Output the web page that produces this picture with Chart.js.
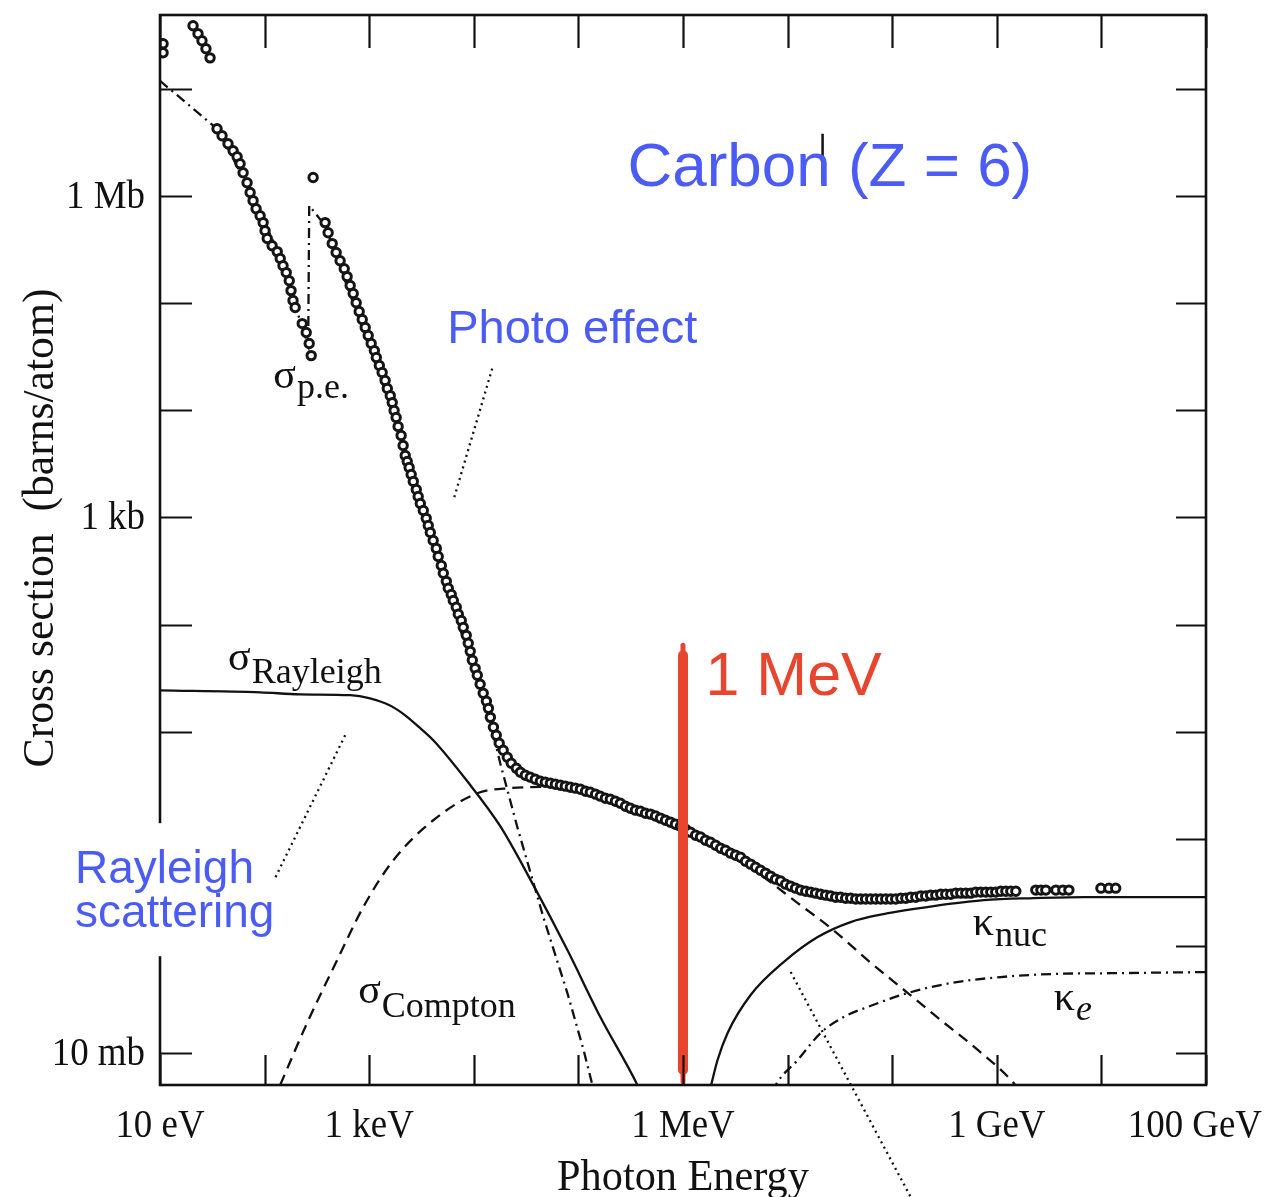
<!DOCTYPE html>
<html>
<head>
<meta charset="utf-8">
<title>Carbon photon cross sections</title>
<script src="https://cdn.jsdelivr.net/npm/chart.js@4.4.1/dist/chart.umd.min.js"></script>
<style>
  html, body { margin: 0; padding: 0; background: #fff; }
</style>
</head>
<body>
<canvas id="myChart" width="1270" height="1197"></canvas>
<script>
// photon energy in eV, cross section in barns/atom
const totalEnergy = [
  10.7, 10.7, 20.7, 23.1, 25.2, 27.5, 30.1,
  35.1, 39.2, 44.7, 50.0, 54.6, 58.3, 62.3, 68.0, 72.7, 77.6, 82.9, 90.6, 96.8, 101, 106,
  118, 132, 141, 150, 161, 172, 179, 187, 196, 229, 250, 267, 279,
  291,
  379, 405, 443, 483, 527, 577, 615, 658, 703, 751, 802, 858, 916, 978, 1045, 1120, 1170,
  1250, 1330, 1420, 1490, 1590, 1660, 1730, 1810, 1890, 2020, 2110, 2210, 2310, 2410, 2520,
  2640, 2820, 2940, 3080, 3290, 3510, 3670, 3840, 4090, 4380, 4570, 4890, 5110, 5460, 5700,
  6090, 6370, 6800, 7110, 7590, 7930, 8470, 8850, 9250, 9680, 1.03e4, 1.08e4, 1.15e4, 1.23e4,
  1.32e4, 1.38e4, 1.44e4, 1.54e4, 1.64e4, 1.75e4, 1.91e4, 2.09e4, 2.28e4, 2.55e4, 2.79e4,
  3.11e4, 3.47e4, 3.87e4, 4.33e4, 4.83e4, 5.40e4, 6.03e4, 6.73e4, 7.50e4, 8.38e4, 9.35e4,
  1.045e5, 1.17e5, 1.30e5, 1.46e5, 1.62e5, 1.81e5, 2.02e5, 2.26e5, 2.52e5, 2.82e5, 3.14e5,
  3.51e5, 3.92e5, 4.38e5, 4.89e5, 5.46e5, 6.09e5, 6.80e5, 7.59e5, 8.47e5, 9.46e5, 1.06e6,
  1.18e6, 1.32e6, 1.47e6, 1.64e6, 1.83e6, 2.05e6, 2.29e6, 2.55e6, 2.85e6, 3.18e6, 3.55e6,
  3.96e6, 4.43e6, 4.94e6, 5.51e6, 6.15e6, 6.87e6, 7.67e6, 8.57e6, 9.57e6, 1.07e7, 1.19e7,
  1.33e7, 1.49e7, 1.66e7, 1.85e7, 2.07e7, 2.31e7, 2.58e7, 2.88e7, 3.21e7, 3.59e7, 4.01e7,
  4.48e7, 4.99e7, 5.57e7, 6.22e7, 6.95e7, 7.76e7, 8.67e7, 9.67e7, 1.08e8, 1.21e8, 1.35e8,
  1.50e8, 1.68e8, 1.87e8, 2.09e8, 2.33e8, 2.61e8, 2.91e8, 3.25e8, 3.63e8, 4.05e8, 4.52e8,
  5.05e8, 5.64e8, 6.29e8, 7.03e8, 7.84e8, 8.75e8, 9.77e8, 1.09e9, 1.22e9, 1.36e9, 1.52e9,
  2.36e9, 2.64e9, 2.94e9, 3.67e9, 4.28e9, 4.89e9, 9.89e9, 1.18e10, 1.37e10
];
const totalSigma = [
  2.64e7, 2.18e7, 3.89e7, 3.27e7, 2.82e7, 2.37e7, 1.95e7,
  4.25e6, 3.66e6, 3.08e6, 2.65e6, 2.33e6, 2.00e6, 1.65e6, 1.33e6, 1.08e6, 9.06e5, 7.62e5, 6.56e5, 5.65e5, 4.75e5, 4.01e5,
  3.44e5, 3.03e5, 2.61e5, 2.24e5, 1.93e5, 1.62e5, 1.31e5, 1.06e5, 9.10e4, 6.45e4, 5.32e4, 4.20e4, 3.24e4,
  1.49e6,
  5.65e5, 4.55e5, 3.60e5, 2.97e5, 2.49e5, 2.10e5, 1.77e5, 1.46e5, 1.23e5, 1.01e5, 8.36e4, 7.03e4, 5.92e4, 4.99e4, 4.20e4, 3.61e4, 3.11e4,
  2.62e4, 2.25e4, 1.90e4, 1.60e4, 1.37e4, 1.18e4, 9.95e3, 8.57e3, 7.06e3, 5.82e3, 4.70e3, 3.79e3, 3.33e3, 2.93e3, 2.52e3,
  2.17e3, 1.82e3, 1.57e3, 1.35e3, 1.16e3, 980, 841, 724, 610, 514, 432, 356, 301, 253, 218,
  191, 168, 145, 125, 109, 94.1, 79.3, 66.8, 56.2, 46.4, 39.0, 33.6, 27.7, 22.8,
  19.2, 16.5, 13.6, 11.0, 9.25, 7.80, 6.71, 5.77, 5.07, 4.56, 4.18,
  3.92, 3.76, 3.60, 3.44, 3.37, 3.30, 3.23, 3.16, 3.10, 3.03, 2.97,
  2.90, 2.78, 2.72, 2.61, 2.50, 2.39, 2.34, 2.24, 2.15, 2.01, 1.93,
  1.85, 1.81, 1.73, 1.70, 1.63, 1.56, 1.49, 1.43, 1.37, 1.31, 1.23,
  1.15, 1.08, 1.04, 0.970, 0.929, 0.871, 0.817, 0.783, 0.734, 0.703, 0.673,
  0.618, 0.580, 0.543, 0.509, 0.478, 0.448, 0.420, 0.403, 0.377, 0.361, 0.346,
  0.332, 0.324, 0.318, 0.311, 0.304, 0.298, 0.292, 0.285, 0.285, 0.279, 0.279,
  0.274, 0.274, 0.274, 0.274, 0.274, 0.274, 0.274, 0.274, 0.274, 0.279, 0.279,
  0.285, 0.285, 0.292, 0.292, 0.298, 0.298, 0.304, 0.304, 0.304, 0.311, 0.311,
  0.311, 0.311, 0.318, 0.318, 0.318, 0.318, 0.318, 0.324, 0.324, 0.324, 0.324,
  0.332, 0.332, 0.332, 0.332, 0.332, 0.332, 0.346, 0.346, 0.346
];

const peEnergy = [10, 27, 35.1, 72.7, 141, 196, 261, 267, 379, 1980, 5960, 14400, 17900, 26100, 46200, 78500, 112000, 136000, 149000];
const peSigma = [1.19e7, 5.27e6, 4.25e6, 1.12e6, 2.72e5, 9.51e4, 4.02e4, 8.13e5, 5.30e5, 6.21e3, 175, 12.2, 5.07, 1.28, 0.186, 0.0363, 0.0107, 0.00504, 0.00365];

const rayleighEnergy = [10, 90.6, 219, 658, 1020, 1420, 1770, 2210, 2940, 4100, 8670, 17900, 37100, 78500, 162000, 366000, 392000];
const rayleighSigma = [24.3, 23.3, 22.3, 21.9, 20.5, 18.4, 16.5, 14.2, 11.2, 8.32, 3.44, 1.31, 0.369, 0.0914, 0.0217, 0.00504, 0.00433];

const comptonEnergy = [141, 255, 494, 877, 1700, 4100, 10800, 22300, 54000, 162000, 489000, 1.47e6, 4.43e6, 1.25e7, 2.75e7, 5.82e7, 1.41e8, 2.91e8, 6.58e8, 1.45e9, 1.62e9];
const comptonSigma = [0.00504, 0.0191, 0.0738, 0.230, 0.631, 1.49, 2.66, 2.97, 3.05, 2.35, 1.56, 0.970, 0.532, 0.251, 0.140, 0.0738, 0.0363, 0.0203, 0.0107, 0.00525, 0.00452];

const nucEnergy = [1.79e6, 2.14e6, 2.67e6, 4.43e6, 9.16e6, 1.94e7, 4.01e7, 8.28e7, 2.49e8, 7.50e8, 2.26e9, 6.79e9, 1e11];
const nucSigma = [0.00433, 0.00861, 0.0154, 0.0348, 0.0706, 0.121, 0.167, 0.198, 0.235, 0.267, 0.279, 0.285, 0.285];

const elecEnergy = [7.18e6, 8.02e6, 1.25e7, 2.07e7, 3.44e7, 5.82e7, 1.41e8, 3.63e8, 1.09e9, 3.28e9, 1.44e10, 1e11];
const elecSigma = [0.00433, 0.00537, 0.00861, 0.0154, 0.0217, 0.0269, 0.0363, 0.0450, 0.0512, 0.0546, 0.0557, 0.0570];

// dotted pointer lines from the blue labels
const photoPointerEnergy = [1.50e4, 6.37e3];
const photoPointerSigma = [2.45e4, 1.44e3];
const rayleighPointerEnergy = [589, 126];
const rayleighPointerSigma = [9.25, 0.430];
const pairPointerEnergy = [1.07e7, 1.50e8];
const pairPointerSigma = [0.0570, 4.54e-4];

// red 1 MeV marker
const mevEnergy = [1e6, 1e6];
const mevSigma = [64, 0.0054];
const mevCoreSigma = [51.6, 0.00695];

// little text caret in the title
const caretEnergy = [2.16e7, 2.16e7];
const caretSigma = [3.82e6, 1.31e6];

// axes
const xTickValues = [1e1, 1e2, 1e3, 1e4, 1e5, 1e6, 1e7, 1e8, 1e9, 1e10, 1e11];
const yTickValues = [1e-2, 1e-1, 1, 1e1, 1e2, 1e3, 1e4, 1e5, 1e6, 1e7];
const xLabelValues = [1e1, 1e3, 1e6, 1e9, 1e11];
const xLabelTexts = ["10 eV", "1 keV", "1 MeV", "1 GeV", "100 GeV"];
const yLabelValues = [1e6, 1e3, 1e-2];
const yLabelTexts = ["1 Mb", "1 kb", "10 mb"];

const ink = "#111";
const blue = "#4b5cf6";
const red = "#e8452f";
const serif = "'Liberation Serif', 'Times New Roman', serif";
const sans = "'Liberation Sans', Arial, sans-serif";

const toPoints = (xs, ys) => xs.map((x, i) => ({ x: x, y: ys[i] }));

function curve(label, xs, ys, dash, extra) {
  return Object.assign({
    label: label,
    data: toPoints(xs, ys),
    showLine: true,
    borderColor: ink,
    borderWidth: 2.3,
    borderDash: dash,
    pointRadius: 0,
    fill: false,
  }, extra || {});
}

function drawText(ctx, text, x, y, font, color, align, sx) {
  ctx.save();
  ctx.font = font;
  ctx.fillStyle = color;
  ctx.textAlign = "left";
  ctx.textBaseline = "alphabetic";
  const w = ctx.measureText(text).width * sx;
  let left = x;
  if (align === "center") left = x - w / 2;
  if (align === "right") left = x - w;
  if (left + w > ctx.canvas.width - 8) left = ctx.canvas.width - 8 - w;
  ctx.translate(left, y);
  ctx.scale(sx, 1);
  ctx.fillText(text, 0, 0);
  ctx.restore();
  return w;
}

// label anchors in data coordinates (energy, sigma)
const blueLabels = [
  { text: "Carbon (Z = 6)", at: [2.94e5, 1.25e6], size: 62 },
  { text: "Photo effect", at: [5.57e3, 4.29e4], size: 47 },
];
const serifLabels = [
  { main: "σ", sub: "p.e.", at: [121, 1.63e4], drop: 10 },
  { main: "σ", sub: "Rayleigh", at: [44.8, 37.4], drop: 13 },
  { main: "σ", sub: "Compton", at: [785, 0.0293], drop: 14 },
  { main: "κ", sub: "nuc", at: [5.89e8, 0.126], drop: 11 },
  { main: "κ", sub: "e", at: [3.51e9, 0.0252], drop: 10, italic: true },
];

const overlay = {
  id: "overlay",
  afterDraw(chart) {
    const ctx = chart.ctx;
    const xs = chart.scales.x, ys = chart.scales.y;
    const { left, right, top, bottom } = chart.chartArea;

    ctx.save();
    ctx.strokeStyle = ink;
    ctx.setLineDash([]);
    ctx.lineWidth = 2.2;
    ctx.beginPath();
    xTickValues.forEach((v) => {
      const px = Math.round(xs.getPixelForValue(v)) + 0.5;
      ctx.moveTo(px, bottom); ctx.lineTo(px, bottom - 30);
      ctx.moveTo(px, top); ctx.lineTo(px, top + 33);
    });
    yTickValues.forEach((v) => {
      const py = Math.round(ys.getPixelForValue(v)) + 0.5;
      ctx.moveTo(left, py); ctx.lineTo(left + 32, py);
      ctx.moveTo(right, py); ctx.lineTo(right - 30, py);
    });
    ctx.stroke();
    ctx.lineWidth = 2.6;
    ctx.strokeRect(left, top, right - left, bottom - top);
    ctx.restore();

    // tick labels
    xLabelValues.forEach((v, i) => {
      drawText(ctx, xLabelTexts[i], xs.getPixelForValue(v), bottom + 52, "41px " + serif, ink, "center", 0.9);
    });
    yLabelValues.forEach((v, i) => {
      drawText(ctx, yLabelTexts[i], left - 15, ys.getPixelForValue(v) + 12, "41px " + serif, ink, "right", 0.9);
    });

    // axis titles
    drawText(ctx, "Photon Energy", (left + right) / 2, bottom + 105, "45px " + serif, ink, "center", 0.94);
    ctx.save();
    ctx.translate(53, top + 513);
    ctx.rotate(-Math.PI / 2);
    drawText(ctx, "Cross section  (barns/atom)", 0, 0, "45px " + serif, ink, "center", 0.97);
    ctx.restore();

    // Rayleigh scattering label sits on a white box over the axis
    const rx = xs.getPixelForValue(1.54), ry = ys.getPixelForValue(0.385);
    ctx.save();
    ctx.fillStyle = "#fff";
    ctx.fillRect(60, ry - 60, 140, 133);
    ctx.restore();
    drawText(ctx, "Rayleigh", rx, ry, "46px " + sans, blue, "left", 1);
    drawText(ctx, "scattering", rx, ys.getPixelForValue(0.150), "46px " + sans, blue, "left", 1);

    blueLabels.forEach((l) => {
      drawText(ctx, l.text, xs.getPixelForValue(l.at[0]), ys.getPixelForValue(l.at[1]), l.size + "px " + sans, blue, "left", 1);
    });
    drawText(ctx, "1 MeV", xs.getPixelForValue(1.64e6), ys.getPixelForValue(21.9), "61px " + sans, red, "left", 1);

    serifLabels.forEach((l) => {
      const px = xs.getPixelForValue(l.at[0]), py = ys.getPixelForValue(l.at[1]);
      const w = drawText(ctx, l.main, px, py, "42px " + serif, ink, "left", 1);
      drawText(ctx, l.sub, px + w + 1, py + l.drop, (l.italic ? "italic " : "") + "36px " + serif, ink, "left", 1);
    });
  },
};

var ctx = document.getElementById("myChart").getContext("2d");

var myChart = new Chart(ctx, {
  type: "scatter",
  data: {
    datasets: [
      curve("1 MeV", mevEnergy, mevSigma, [], { borderColor: red, borderWidth: 5, borderCapStyle: "round" }),
      curve("1 MeV core", mevEnergy, mevCoreSigma, [], { borderColor: red, borderWidth: 10, borderCapStyle: "round" }),
      curve("caret", caretEnergy, caretSigma, [], { borderWidth: 2.5, clip: false }),
      {
        label: "σ total",
        data: toPoints(totalEnergy, totalSigma),
        showLine: false,
        pointRadius: 4.2,
        pointBorderWidth: 3,
        borderColor: "#151515",
        backgroundColor: "#fff",
      },
      curve("σ p.e.", peEnergy, peSigma, [10, 5, 2, 5]),
      curve("σ Rayleigh", rayleighEnergy, rayleighSigma, [], { cubicInterpolationMode: "monotone" }),
      curve("σ Compton", comptonEnergy, comptonSigma, [11, 7], { cubicInterpolationMode: "monotone" }),
      curve("κ nuc", nucEnergy, nucSigma, [], { cubicInterpolationMode: "monotone" }),
      curve("κ e", elecEnergy, elecSigma, [10, 5, 2, 5], { cubicInterpolationMode: "monotone" }),
      curve("photo pointer", photoPointerEnergy, photoPointerSigma, [2, 4]),
      curve("rayleigh pointer", rayleighPointerEnergy, rayleighPointerSigma, [2, 4]),
      curve("pair pointer", pairPointerEnergy, pairPointerSigma, [2, 4], { clip: false }),
    ],
  },
  options: {
    responsive: false,
    animation: false,
    layout: { padding: { left: 160, right: 64, top: 15, bottom: 112 } },
    plugins: { legend: { display: false }, tooltip: { enabled: false } },
    scales: {
      x: { type: "logarithmic", min: 10, max: 1e11, display: false },
      y: { type: "logarithmic", min: 5.03e-3, max: 4.9e7, display: false },
    },
  },
  plugins: [overlay],
});
</script>
</body>
</html>
